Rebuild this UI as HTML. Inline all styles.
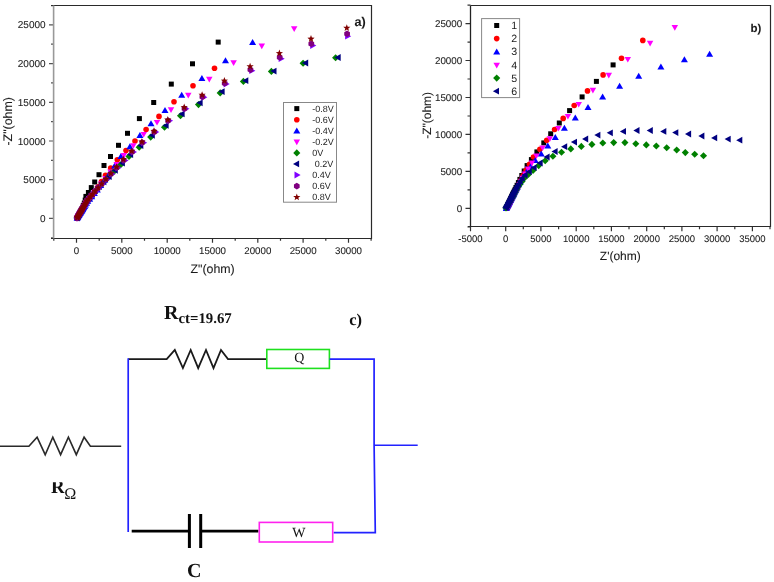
<!DOCTYPE html>
<html><head><meta charset="utf-8"><style>
html,body{margin:0;padding:0;background:#fff;}
svg{display:block;will-change:transform;text-rendering:geometricPrecision;}
</style></head><body>
<svg width="774" height="582" viewBox="0 0 774 582">
<rect width="774" height="582" fill="#fff"/>
<defs>
<rect id="sq" x="-2.5" y="-2.5" width="5" height="5" fill="#000"/>
<circle id="ci" r="2.8" fill="#f00"/>
<polygon id="tu" points="0,-3.3 3.5,2.7 -3.5,2.7" fill="#00f"/>
<polygon id="td" points="0,3.5 3.25,-2.2 -3.25,-2.2" fill="#f0f"/>
<polygon id="di" points="0,-3.55 3.55,0 0,3.55 -3.55,0" fill="#008000"/>
<polygon id="tl" points="-3.8,0 2.3,-3.4 2.3,3.4" fill="#000080"/>
<polygon id="tr" points="3.8,0 -2.3,-3.4 -2.3,3.4" fill="#8000ff"/>
<polygon id="hx" points="2.86,1.65 0.00,3.30 -2.86,1.65 -2.86,-1.65 -0.00,-3.30 2.86,-1.65" fill="#800080"/>
<polygon id="st" points="0.00,-3.80 0.94,-1.29 3.61,-1.17 1.52,0.49 2.23,3.07 0.00,1.60 -2.23,3.07 -1.52,0.49 -3.61,-1.17 -0.94,-1.29" fill="#800000"/>
</defs>
<g font-family="Liberation Sans, sans-serif" fill="#1a1a1a" stroke="#1a1a1a" stroke-width="0.08">
<text transform="translate(45.6,221.9) scale(1,1.0)" font-size="10" text-anchor="end">0</text>
<text transform="translate(45.6,183.2) scale(1,1.0)" font-size="10" text-anchor="end">5000</text>
<text transform="translate(45.6,144.5) scale(1,1.0)" font-size="10" text-anchor="end">10000</text>
<text transform="translate(45.6,105.8) scale(1,1.0)" font-size="10" text-anchor="end">15000</text>
<text transform="translate(45.6,67.1) scale(1,1.0)" font-size="10" text-anchor="end">20000</text>
<text transform="translate(45.6,28.4) scale(1,1.0)" font-size="10" text-anchor="end">25000</text>
<text transform="translate(76.5,254) scale(1,1.0)" font-size="9.7" text-anchor="middle">0</text>
<text transform="translate(121.8,254) scale(1,1.0)" font-size="9.7" text-anchor="middle">5000</text>
<text transform="translate(167.2,254) scale(1,1.0)" font-size="9.7" text-anchor="middle">10000</text>
<text transform="translate(212.5,254) scale(1,1.0)" font-size="9.7" text-anchor="middle">15000</text>
<text transform="translate(257.8,254) scale(1,1.0)" font-size="9.7" text-anchor="middle">20000</text>
<text transform="translate(303.1,254) scale(1,1.0)" font-size="9.7" text-anchor="middle">25000</text>
<text transform="translate(348.5,254) scale(1,1.0)" font-size="9.7" text-anchor="middle">30000</text>
<text x="212.6" y="272.5" font-size="12.4" text-anchor="middle">Z"(ohm)</text>
<text transform="translate(11.9,121.3) rotate(-90)" font-size="12.4" text-anchor="middle">-Z"(ohm)</text>
<text x="354.6" y="25.8" font-size="12.6" font-weight="bold">a)</text>
</g>
<path d="M49 218.4H53.6M51 199.1H53.6M49 179.7H53.6M51 160.3H53.6M49 141H53.6M51 121.7H53.6M49 102.3H53.6M51 82.9H53.6M49 63.6H53.6M51 44.2H53.6M49 24.9H53.6M51 5.6H53.6M51 237.8H53.6" stroke="#555" stroke-width="1.2" fill="none"/>
<path d="M76.5 238.5V242.8M99.2 238.5V240.8M121.8 238.5V242.8M144.5 238.5V240.8M167.2 238.5V242.8M189.8 238.5V240.8M212.5 238.5V242.8M235.2 238.5V240.8M257.8 238.5V242.8M280.5 238.5V240.8M303.1 238.5V242.8M325.8 238.5V240.8M348.5 238.5V242.8M371.1 238.5V240.8M53.8 238.5V240.8" stroke="#333" stroke-width="1.2" fill="none"/>
<path d="M51 5.5H371.5V238.5H51" stroke="#2a2a2a" stroke-width="1.2" fill="none"/>
<path d="M53.6 5.5V238.5" stroke="#999" stroke-width="1.6" fill="none"/>
<g><use href="#sq" x="77.2" y="217.7"/><use href="#sq" x="77.6" y="217"/><use href="#sq" x="77.9" y="216.3"/><use href="#sq" x="78.3" y="215.6"/><use href="#sq" x="78.7" y="214.9"/><use href="#sq" x="79.1" y="214.2"/><use href="#sq" x="79.4" y="213.4"/><use href="#sq" x="79.8" y="212.7"/><use href="#sq" x="80.2" y="212"/><use href="#sq" x="80.6" y="211.2"/><use href="#sq" x="81.1" y="210.2"/><use href="#sq" x="81.8" y="208.9"/><use href="#sq" x="82.5" y="207.4"/><use href="#sq" x="83.3" y="205.4"/><use href="#sq" x="84.3" y="203.1"/><use href="#sq" x="85.2" y="200.1"/><use href="#sq" x="85.9" y="196.4"/><use href="#sq" x="88.4" y="192.5"/><use href="#sq" x="91.3" y="187.6"/><use href="#sq" x="94.7" y="182"/><use href="#sq" x="99" y="174.7"/><use href="#sq" x="104" y="165.5"/><use href="#sq" x="110.5" y="156.5"/><use href="#sq" x="118.5" y="145.3"/><use href="#sq" x="127.5" y="133.3"/><use href="#sq" x="139.4" y="118.6"/><use href="#sq" x="153.7" y="102.5"/><use href="#sq" x="171.3" y="84.1"/><use href="#sq" x="192.5" y="63.8"/><use href="#sq" x="218.2" y="42.1"/><use href="#ci" x="77.1" y="218"/><use href="#ci" x="77.5" y="217.3"/><use href="#ci" x="77.9" y="216.6"/><use href="#ci" x="78.3" y="215.9"/><use href="#ci" x="78.7" y="215.2"/><use href="#ci" x="79.1" y="214.5"/><use href="#ci" x="79.5" y="213.8"/><use href="#ci" x="79.8" y="213.1"/><use href="#ci" x="80.2" y="212.4"/><use href="#ci" x="80.6" y="211.7"/><use href="#ci" x="81" y="211"/><use href="#ci" x="81.4" y="210.3"/><use href="#ci" x="81.8" y="209.7"/><use href="#ci" x="82.3" y="208.8"/><use href="#ci" x="82.8" y="207.9"/><use href="#ci" x="83.5" y="206.8"/><use href="#ci" x="84.3" y="205.4"/><use href="#ci" x="85.2" y="203.8"/><use href="#ci" x="86.3" y="201.9"/><use href="#ci" x="87.9" y="199.8"/><use href="#ci" x="89.9" y="197.3"/><use href="#ci" x="92.2" y="194.4"/><use href="#ci" x="95" y="191"/><use href="#ci" x="98.1" y="186.8"/><use href="#ci" x="101.5" y="181.5"/><use href="#ci" x="105.5" y="175.2"/><use href="#ci" x="110.7" y="168"/><use href="#ci" x="117.3" y="159.7"/><use href="#ci" x="126" y="150.6"/><use href="#ci" x="135" y="141"/><use href="#ci" x="146.1" y="129.5"/><use href="#ci" x="159" y="116.4"/><use href="#ci" x="174" y="101.7"/><use href="#ci" x="193" y="85.7"/><use href="#ci" x="214.5" y="68.2"/><use href="#tu" x="77.1" y="218"/><use href="#tu" x="77.5" y="217.3"/><use href="#tu" x="77.9" y="216.6"/><use href="#tu" x="78.4" y="215.9"/><use href="#tu" x="78.8" y="215.3"/><use href="#tu" x="79.2" y="214.6"/><use href="#tu" x="79.6" y="213.9"/><use href="#tu" x="80.1" y="213.2"/><use href="#tu" x="80.5" y="212.6"/><use href="#tu" x="80.9" y="211.9"/><use href="#tu" x="81.4" y="211.2"/><use href="#tu" x="81.8" y="210.5"/><use href="#tu" x="82.2" y="209.9"/><use href="#tu" x="82.7" y="209.2"/><use href="#tu" x="83.2" y="208.3"/><use href="#tu" x="83.8" y="207.3"/><use href="#tu" x="84.6" y="206.2"/><use href="#tu" x="85.4" y="204.8"/><use href="#tu" x="86.5" y="203.1"/><use href="#tu" x="87.8" y="201.1"/><use href="#tu" x="89.6" y="199"/><use href="#tu" x="91.7" y="196.5"/><use href="#tu" x="94.3" y="193.4"/><use href="#tu" x="97.3" y="189.8"/><use href="#tu" x="100.7" y="185.3"/><use href="#tu" x="104.6" y="180"/><use href="#tu" x="109.3" y="173.5"/><use href="#tu" x="114.6" y="165.7"/><use href="#tu" x="120.9" y="156.4"/><use href="#tu" x="129.9" y="146.5"/><use href="#tu" x="139.9" y="135.3"/><use href="#tu" x="151" y="123.6"/><use href="#tu" x="165" y="110.2"/><use href="#tu" x="181.7" y="95"/><use href="#tu" x="201.9" y="78.2"/><use href="#tu" x="225.5" y="60.6"/><use href="#tu" x="252.6" y="42.3"/><use href="#td" x="77" y="218"/><use href="#td" x="77.5" y="217.3"/><use href="#td" x="77.9" y="216.6"/><use href="#td" x="78.3" y="215.9"/><use href="#td" x="78.7" y="215.3"/><use href="#td" x="79.1" y="214.6"/><use href="#td" x="79.5" y="213.9"/><use href="#td" x="79.9" y="213.2"/><use href="#td" x="80.3" y="212.5"/><use href="#td" x="80.7" y="211.8"/><use href="#td" x="81.1" y="211.1"/><use href="#td" x="81.5" y="210.4"/><use href="#td" x="82" y="209.6"/><use href="#td" x="82.5" y="208.6"/><use href="#td" x="83.2" y="207.5"/><use href="#td" x="84" y="206.1"/><use href="#td" x="84.9" y="204.5"/><use href="#td" x="86.1" y="202.6"/><use href="#td" x="87.5" y="200.5"/><use href="#td" x="89.4" y="198.1"/><use href="#td" x="91.7" y="195.4"/><use href="#td" x="94.4" y="192.1"/><use href="#td" x="97.7" y="188.3"/><use href="#td" x="101.3" y="183.6"/><use href="#td" x="105.5" y="178.1"/><use href="#td" x="110.6" y="171.6"/><use href="#td" x="116.7" y="164.1"/><use href="#td" x="123.9" y="155.2"/><use href="#td" x="133.3" y="145.5"/><use href="#td" x="143.7" y="134.1"/><use href="#td" x="157" y="122.1"/><use href="#td" x="171" y="109.4"/><use href="#td" x="188.3" y="95"/><use href="#td" x="209.3" y="78.9"/><use href="#td" x="233.6" y="62.5"/><use href="#td" x="261.8" y="45.7"/><use href="#td" x="294.2" y="28.4"/><use href="#di" x="77.4" y="217.4"/><use href="#di" x="77.8" y="216.7"/><use href="#di" x="78.3" y="215.9"/><use href="#di" x="78.8" y="215"/><use href="#di" x="79.5" y="213.9"/><use href="#di" x="80.2" y="212.6"/><use href="#di" x="81.1" y="211.1"/><use href="#di" x="82.1" y="209.4"/><use href="#di" x="83.2" y="207.4"/><use href="#di" x="84.6" y="205.1"/><use href="#di" x="86.2" y="202.4"/><use href="#di" x="88.2" y="199.5"/><use href="#di" x="90.9" y="196.3"/><use href="#di" x="94" y="192.6"/><use href="#di" x="97.7" y="188.3"/><use href="#di" x="102.2" y="183.7"/><use href="#di" x="107.4" y="178.2"/><use href="#di" x="113.5" y="172"/><use href="#di" x="120.7" y="164.8"/><use href="#di" x="129" y="156.4"/><use href="#di" x="139.2" y="147.3"/><use href="#di" x="150.7" y="137.1"/><use href="#di" x="164.5" y="127.2"/><use href="#di" x="180.5" y="115.7"/><use href="#di" x="198.5" y="104.6"/><use href="#di" x="220.2" y="92.9"/><use href="#di" x="243.4" y="81.4"/><use href="#di" x="271.4" y="71.4"/><use href="#di" x="303.1" y="63.3"/><use href="#di" x="335.6" y="57.8"/><use href="#tl" x="77.1" y="218"/><use href="#tl" x="77.5" y="217.3"/><use href="#tl" x="77.9" y="216.6"/><use href="#tl" x="78.3" y="215.9"/><use href="#tl" x="78.7" y="215.2"/><use href="#tl" x="79.1" y="214.5"/><use href="#tl" x="79.6" y="213.7"/><use href="#tl" x="80.1" y="212.8"/><use href="#tl" x="80.8" y="211.7"/><use href="#tl" x="81.5" y="210.4"/><use href="#tl" x="82.4" y="208.9"/><use href="#tl" x="83.4" y="207.2"/><use href="#tl" x="84.5" y="205.2"/><use href="#tl" x="85.9" y="202.9"/><use href="#tl" x="87.6" y="200.3"/><use href="#tl" x="89.9" y="197.6"/><use href="#tl" x="92.6" y="194.4"/><use href="#tl" x="95.7" y="190.7"/><use href="#tl" x="99.5" y="186.5"/><use href="#tl" x="104.1" y="181.9"/><use href="#tl" x="109.4" y="176.6"/><use href="#tl" x="115.5" y="170.3"/><use href="#tl" x="122.6" y="163.1"/><use href="#tl" x="130.8" y="154.6"/><use href="#tl" x="141" y="145.5"/><use href="#tl" x="152.5" y="135.3"/><use href="#tl" x="166.3" y="125.4"/><use href="#tl" x="182.3" y="113.9"/><use href="#tl" x="200.3" y="102.8"/><use href="#tl" x="222.3" y="91.6"/><use href="#tl" x="246" y="80.7"/><use href="#tl" x="274.2" y="71.1"/><use href="#tl" x="305.9" y="63"/><use href="#tl" x="338.4" y="57.5"/><use href="#tr" x="77.3" y="217.6"/><use href="#tr" x="77.7" y="216.9"/><use href="#tr" x="78.1" y="216.2"/><use href="#tr" x="78.6" y="215.6"/><use href="#tr" x="79" y="214.9"/><use href="#tr" x="79.4" y="214.2"/><use href="#tr" x="79.8" y="213.5"/><use href="#tr" x="80.2" y="212.8"/><use href="#tr" x="80.6" y="212.1"/><use href="#tr" x="81.1" y="211.5"/><use href="#tr" x="81.5" y="210.8"/><use href="#tr" x="81.9" y="210.1"/><use href="#tr" x="82.3" y="209.4"/><use href="#tr" x="82.7" y="208.7"/><use href="#tr" x="83.2" y="207.9"/><use href="#tr" x="83.8" y="206.9"/><use href="#tr" x="84.5" y="205.8"/><use href="#tr" x="85.3" y="204.5"/><use href="#tr" x="86.2" y="202.9"/><use href="#tr" x="87.4" y="201.1"/><use href="#tr" x="89" y="199.3"/><use href="#tr" x="90.9" y="197.1"/><use href="#tr" x="93.1" y="194.5"/><use href="#tr" x="95.6" y="191.5"/><use href="#tr" x="98.7" y="188"/><use href="#tr" x="102.4" y="184.1"/><use href="#tr" x="106.8" y="179.5"/><use href="#tr" x="111.8" y="174.1"/><use href="#tr" x="117.8" y="167.8"/><use href="#tr" x="124.8" y="160.4"/><use href="#tr" x="133.2" y="152"/><use href="#tr" x="143.4" y="142.7"/><use href="#tr" x="155.5" y="132.1"/><use href="#tr" x="169.3" y="120.7"/><use href="#tr" x="185.7" y="108.8"/><use href="#tr" x="203.6" y="97.2"/><use href="#tr" x="225.9" y="84"/><use href="#tr" x="251.6" y="70.7"/><use href="#tr" x="280.9" y="58.7"/><use href="#tr" x="312.5" y="45.6"/><use href="#tr" x="347.4" y="36.2"/><use href="#hx" x="77" y="218.1"/><use href="#hx" x="77.4" y="217.4"/><use href="#hx" x="77.8" y="216.7"/><use href="#hx" x="78.2" y="216"/><use href="#hx" x="78.6" y="215.3"/><use href="#hx" x="79" y="214.6"/><use href="#hx" x="79.4" y="213.9"/><use href="#hx" x="79.8" y="213.2"/><use href="#hx" x="80.2" y="212.5"/><use href="#hx" x="80.6" y="211.8"/><use href="#hx" x="81" y="211.2"/><use href="#hx" x="81.4" y="210.5"/><use href="#hx" x="81.8" y="209.8"/><use href="#hx" x="82.2" y="209.1"/><use href="#hx" x="82.7" y="208.2"/><use href="#hx" x="83.3" y="207.2"/><use href="#hx" x="83.9" y="206.1"/><use href="#hx" x="84.7" y="204.8"/><use href="#hx" x="85.6" y="203.2"/><use href="#hx" x="86.7" y="201.4"/><use href="#hx" x="88.2" y="199.4"/><use href="#hx" x="90" y="197.2"/><use href="#hx" x="92.2" y="194.7"/><use href="#hx" x="94.8" y="191.6"/><use href="#hx" x="97.8" y="188.1"/><use href="#hx" x="101.4" y="184.1"/><use href="#hx" x="105.7" y="179.4"/><use href="#hx" x="110.7" y="173.9"/><use href="#hx" x="116.6" y="167.6"/><use href="#hx" x="123.6" y="160.2"/><use href="#hx" x="132" y="151.8"/><use href="#hx" x="142.2" y="142.5"/><use href="#hx" x="154.3" y="131.9"/><use href="#hx" x="168.1" y="120.7"/><use href="#hx" x="184.5" y="108.7"/><use href="#hx" x="202.4" y="96.9"/><use href="#hx" x="224.7" y="83.3"/><use href="#hx" x="250.4" y="69.7"/><use href="#hx" x="279.7" y="57.3"/><use href="#hx" x="311.3" y="43.8"/><use href="#hx" x="347.1" y="33.8"/><use href="#st" x="77.2" y="217.7"/><use href="#st" x="77.6" y="217.1"/><use href="#st" x="78" y="216.4"/><use href="#st" x="78.4" y="215.7"/><use href="#st" x="78.8" y="215"/><use href="#st" x="79.2" y="214.3"/><use href="#st" x="79.6" y="213.6"/><use href="#st" x="80" y="212.9"/><use href="#st" x="80.4" y="212.2"/><use href="#st" x="80.8" y="211.5"/><use href="#st" x="81.2" y="210.8"/><use href="#st" x="81.6" y="210.1"/><use href="#st" x="82" y="209.4"/><use href="#st" x="82.4" y="208.7"/><use href="#st" x="82.9" y="207.9"/><use href="#st" x="83.5" y="206.9"/><use href="#st" x="84.1" y="205.8"/><use href="#st" x="84.9" y="204.4"/><use href="#st" x="85.8" y="202.9"/><use href="#st" x="86.9" y="201"/><use href="#st" x="88.4" y="199.1"/><use href="#st" x="90.3" y="196.9"/><use href="#st" x="92.5" y="194.4"/><use href="#st" x="95.1" y="191.3"/><use href="#st" x="98.1" y="187.8"/><use href="#st" x="101.7" y="183.8"/><use href="#st" x="105.9" y="179.1"/><use href="#st" x="110.9" y="173.5"/><use href="#st" x="116.6" y="167"/><use href="#st" x="123.3" y="159.4"/><use href="#st" x="131.7" y="151"/><use href="#st" x="141.9" y="141.7"/><use href="#st" x="154" y="131.1"/><use href="#st" x="167.8" y="119.7"/><use href="#st" x="184.2" y="107.3"/><use href="#st" x="202.1" y="95"/><use href="#st" x="224.4" y="80.8"/><use href="#st" x="250.1" y="66.5"/><use href="#st" x="279.4" y="53.3"/><use href="#st" x="311" y="38.9"/><use href="#st" x="346.8" y="28"/></g>
<rect x="283.5" y="102.5" width="53" height="99.7" fill="#fff" stroke="#888" stroke-width="1"/>
<use href="#sq" x="296.8" y="108.6"/>
<text transform="translate(312.2,111.5) scale(1,1.0)" font-family="Liberation Sans, sans-serif" font-size="9" fill="#1a1a1a">-0.8V</text>
<use href="#ci" x="296.8" y="119.7"/>
<text transform="translate(312.2,122.6) scale(1,1.0)" font-family="Liberation Sans, sans-serif" font-size="9" fill="#1a1a1a">-0.6V</text>
<use href="#tu" x="296.8" y="130.7"/>
<text transform="translate(312.2,133.6) scale(1,1.0)" font-family="Liberation Sans, sans-serif" font-size="9" fill="#1a1a1a">-0.4V</text>
<use href="#td" x="296.8" y="141.8"/>
<text transform="translate(312.2,144.7) scale(1,1.0)" font-family="Liberation Sans, sans-serif" font-size="9" fill="#1a1a1a">-0.2V</text>
<use href="#di" x="296.8" y="152.9"/>
<text transform="translate(312.2,155.8) scale(1,1.0)" font-family="Liberation Sans, sans-serif" font-size="9" fill="#1a1a1a">0V</text>
<use href="#tl" x="296.8" y="163.9"/>
<text transform="translate(314.8,166.8) scale(1,1.0)" font-family="Liberation Sans, sans-serif" font-size="9" fill="#1a1a1a">0.2V</text>
<use href="#tr" x="296.8" y="175"/>
<text transform="translate(312.2,177.9) scale(1,1.0)" font-family="Liberation Sans, sans-serif" font-size="9" fill="#1a1a1a">0.4V</text>
<use href="#hx" x="296.8" y="186.1"/>
<text transform="translate(312.2,189) scale(1,1.0)" font-family="Liberation Sans, sans-serif" font-size="9" fill="#1a1a1a">0.6V</text>
<use href="#st" x="296.8" y="197.2"/>
<text transform="translate(312.2,200.1) scale(1,1.0)" font-family="Liberation Sans, sans-serif" font-size="9" fill="#1a1a1a">0.8V</text>
<g font-family="Liberation Sans, sans-serif" fill="#1a1a1a" stroke="#1a1a1a" stroke-width="0.08">
<text transform="translate(462.2,211.8) scale(1,1.0)" font-size="9.8" text-anchor="end">0</text>
<text transform="translate(462.2,174.9) scale(1,1.0)" font-size="9.8" text-anchor="end">5000</text>
<text transform="translate(462.2,137.9) scale(1,1.0)" font-size="9.8" text-anchor="end">10000</text>
<text transform="translate(462.2,101) scale(1,1.0)" font-size="9.8" text-anchor="end">15000</text>
<text transform="translate(462.2,64) scale(1,1.0)" font-size="9.8" text-anchor="end">20000</text>
<text transform="translate(462.2,27.1) scale(1,1.0)" font-size="9.8" text-anchor="end">25000</text>
<text transform="translate(470.5,242) scale(1,1.0)" font-size="9.5" text-anchor="middle">-5000</text>
<text transform="translate(505.7,242) scale(1,1.0)" font-size="9.5" text-anchor="middle">0</text>
<text transform="translate(540.9,242) scale(1,1.0)" font-size="9.5" text-anchor="middle">5000</text>
<text transform="translate(576.2,242) scale(1,1.0)" font-size="9.5" text-anchor="middle">10000</text>
<text transform="translate(611.4,242) scale(1,1.0)" font-size="9.5" text-anchor="middle">15000</text>
<text transform="translate(646.7,242) scale(1,1.0)" font-size="9.5" text-anchor="middle">20000</text>
<text transform="translate(681.9,242) scale(1,1.0)" font-size="9.5" text-anchor="middle">25000</text>
<text transform="translate(717.1,242) scale(1,1.0)" font-size="9.5" text-anchor="middle">30000</text>
<text transform="translate(752.4,242) scale(1,1.0)" font-size="9.5" text-anchor="middle">35000</text>
<text x="620.3" y="260.4" font-size="12" text-anchor="middle">Z'(ohm)</text>
<text transform="translate(430.8,115.4) rotate(-90)" font-size="12" text-anchor="middle">-Z"(ohm)</text>
<text x="750.5" y="32" font-size="11.5" font-weight="bold">b)</text>
</g>
<path d="M465.5 208.3H470.5M467.5 189.9H470.5M465.5 171.4H470.5M467.5 152.9H470.5M465.5 134.4H470.5M467.5 116H470.5M465.5 97.5H470.5M467.5 79H470.5M465.5 60.5H470.5M467.5 42.1H470.5M465.5 23.6H470.5M467.5 5.1H470.5M467.5 226.8H470.5M470.5 226.5V231.2M488.1 226.5V229.2M505.7 226.5V231.2M523.3 226.5V229.2M540.9 226.5V231.2M558.6 226.5V229.2M576.2 226.5V231.2M593.8 226.5V229.2M611.4 226.5V231.2M629 226.5V229.2M646.7 226.5V231.2M664.3 226.5V229.2M681.9 226.5V231.2M699.5 226.5V229.2M717.1 226.5V231.2M734.8 226.5V229.2M752.4 226.5V231.2M770 226.5V229.2" stroke="#333" stroke-width="1.2" fill="none"/>
<path d="M470.5 5.5H770.5V226.5H468" stroke="#2a2a2a" stroke-width="1.2" fill="none"/>
<path d="M470.5 5.5V226.5" stroke="#222" stroke-width="1.3" fill="none"/>
<g><use href="#sq" x="506.8" y="207.3"/><use href="#sq" x="507.1" y="206.5"/><use href="#sq" x="507.5" y="205.8"/><use href="#sq" x="507.8" y="205.1"/><use href="#sq" x="508.1" y="204.4"/><use href="#sq" x="508.5" y="203.6"/><use href="#sq" x="508.8" y="202.9"/><use href="#sq" x="509.1" y="202.2"/><use href="#sq" x="509.5" y="201.5"/><use href="#sq" x="509.8" y="200.7"/><use href="#sq" x="510.2" y="200"/><use href="#sq" x="510.5" y="199.3"/><use href="#sq" x="510.8" y="198.6"/><use href="#sq" x="511.2" y="197.8"/><use href="#sq" x="511.5" y="197.1"/><use href="#sq" x="511.9" y="196.4"/><use href="#sq" x="512.2" y="195.7"/><use href="#sq" x="512.5" y="194.9"/><use href="#sq" x="512.9" y="194.2"/><use href="#sq" x="513.3" y="193.3"/><use href="#sq" x="513.8" y="192.2"/><use href="#sq" x="514.4" y="190.9"/><use href="#sq" x="515.2" y="189.4"/><use href="#sq" x="516" y="187.5"/><use href="#sq" x="517.1" y="185.3"/><use href="#sq" x="518.4" y="182.6"/><use href="#sq" x="519.9" y="179.4"/><use href="#sq" x="521.8" y="175.5"/><use href="#sq" x="524.2" y="171"/><use href="#sq" x="527.1" y="165.6"/><use href="#sq" x="531.4" y="159.6"/><use href="#sq" x="536.9" y="151.9"/><use href="#sq" x="543.8" y="142.9"/><use href="#sq" x="550.7" y="133.8"/><use href="#sq" x="559.3" y="123"/><use href="#sq" x="569.6" y="110.6"/><use href="#sq" x="582.1" y="96.9"/><use href="#sq" x="596.4" y="81.4"/><use href="#sq" x="613.1" y="64.9"/><use href="#ci" x="507.3" y="208"/><use href="#ci" x="507.7" y="207.3"/><use href="#ci" x="508.1" y="206.6"/><use href="#ci" x="508.4" y="205.9"/><use href="#ci" x="508.8" y="205.2"/><use href="#ci" x="509.1" y="204.5"/><use href="#ci" x="509.5" y="203.7"/><use href="#ci" x="509.8" y="203"/><use href="#ci" x="510.2" y="202.3"/><use href="#ci" x="510.5" y="201.6"/><use href="#ci" x="510.9" y="200.9"/><use href="#ci" x="511.2" y="200.1"/><use href="#ci" x="511.6" y="199.4"/><use href="#ci" x="511.9" y="198.7"/><use href="#ci" x="512.3" y="198"/><use href="#ci" x="512.6" y="197.3"/><use href="#ci" x="513" y="196.4"/><use href="#ci" x="513.6" y="195.4"/><use href="#ci" x="514.2" y="194.2"/><use href="#ci" x="514.9" y="192.8"/><use href="#ci" x="515.8" y="191.1"/><use href="#ci" x="516.9" y="189"/><use href="#ci" x="518.2" y="186.5"/><use href="#ci" x="519.6" y="183.5"/><use href="#ci" x="521.2" y="179.8"/><use href="#ci" x="523.3" y="175.5"/><use href="#ci" x="526.1" y="170.4"/><use href="#ci" x="529.5" y="164.3"/><use href="#ci" x="533.5" y="157"/><use href="#ci" x="539.9" y="149.3"/><use href="#ci" x="546.7" y="140.2"/><use href="#ci" x="554.6" y="129.5"/><use href="#ci" x="563.2" y="118.4"/><use href="#ci" x="574.2" y="105.5"/><use href="#ci" x="587.5" y="90.9"/><use href="#ci" x="603.1" y="74.9"/><use href="#ci" x="621.5" y="58.2"/><use href="#ci" x="642.8" y="40.4"/><use href="#tu" x="506.3" y="208.2"/><use href="#tu" x="506.6" y="207.5"/><use href="#tu" x="507" y="206.8"/><use href="#tu" x="507.3" y="206.1"/><use href="#tu" x="507.7" y="205.4"/><use href="#tu" x="508.1" y="204.7"/><use href="#tu" x="508.4" y="204"/><use href="#tu" x="508.8" y="203.3"/><use href="#tu" x="509.2" y="202.6"/><use href="#tu" x="509.5" y="201.8"/><use href="#tu" x="509.9" y="201.1"/><use href="#tu" x="510.3" y="200.4"/><use href="#tu" x="510.6" y="199.7"/><use href="#tu" x="511" y="199"/><use href="#tu" x="511.3" y="198.3"/><use href="#tu" x="511.7" y="197.6"/><use href="#tu" x="512.1" y="196.9"/><use href="#tu" x="512.5" y="196.1"/><use href="#tu" x="512.8" y="195.4"/><use href="#tu" x="513.2" y="194.7"/><use href="#tu" x="513.6" y="194"/><use href="#tu" x="514" y="193.3"/><use href="#tu" x="514.4" y="192.4"/><use href="#tu" x="515" y="191.4"/><use href="#tu" x="515.7" y="190.1"/><use href="#tu" x="516.5" y="188.6"/><use href="#tu" x="517.4" y="186.8"/><use href="#tu" x="518.6" y="184.6"/><use href="#tu" x="520.1" y="182"/><use href="#tu" x="521.8" y="178.9"/><use href="#tu" x="523.9" y="175.2"/><use href="#tu" x="527" y="171.1"/><use href="#tu" x="530.7" y="166.2"/><use href="#tu" x="535.2" y="160.4"/><use href="#tu" x="541.2" y="153.9"/><use href="#tu" x="547.8" y="145.8"/><use href="#tu" x="555.3" y="137.3"/><use href="#tu" x="564.4" y="128.1"/><use href="#tu" x="575.3" y="117.8"/><use href="#tu" x="588" y="107.2"/><use href="#tu" x="602.6" y="96.9"/><use href="#tu" x="619.6" y="86"/><use href="#tu" x="638.7" y="76"/><use href="#tu" x="660.9" y="66.9"/><use href="#tu" x="684.4" y="59.5"/><use href="#tu" x="709.6" y="54"/><use href="#td" x="507.9" y="207.7"/><use href="#td" x="508.2" y="207"/><use href="#td" x="508.6" y="206.3"/><use href="#td" x="509" y="205.5"/><use href="#td" x="509.4" y="204.8"/><use href="#td" x="509.7" y="204.1"/><use href="#td" x="510.1" y="203.4"/><use href="#td" x="510.5" y="202.7"/><use href="#td" x="510.8" y="202"/><use href="#td" x="511.2" y="201.3"/><use href="#td" x="511.6" y="200.6"/><use href="#td" x="512" y="199.9"/><use href="#td" x="512.3" y="199.2"/><use href="#td" x="512.7" y="198.5"/><use href="#td" x="513.1" y="197.8"/><use href="#td" x="513.5" y="197.1"/><use href="#td" x="513.8" y="196.4"/><use href="#td" x="514.2" y="195.6"/><use href="#td" x="514.6" y="194.8"/><use href="#td" x="515.2" y="193.8"/><use href="#td" x="515.8" y="192.6"/><use href="#td" x="516.5" y="191.1"/><use href="#td" x="517.4" y="189.4"/><use href="#td" x="518.5" y="187.3"/><use href="#td" x="519.6" y="184.7"/><use href="#td" x="521" y="181.6"/><use href="#td" x="522.7" y="177.9"/><use href="#td" x="525" y="173.6"/><use href="#td" x="528.1" y="168.7"/><use href="#td" x="531.9" y="162.7"/><use href="#td" x="536.4" y="155.6"/><use href="#td" x="542.6" y="147.6"/><use href="#td" x="549.8" y="138.5"/><use href="#td" x="558.4" y="128.1"/><use href="#td" x="567.9" y="116.1"/><use href="#td" x="578.7" y="104.1"/><use href="#td" x="592.9" y="90"/><use href="#td" x="608.8" y="74.9"/><use href="#td" x="627.8" y="59.1"/><use href="#td" x="650.1" y="42.9"/><use href="#td" x="674.8" y="27.3"/><use href="#di" x="506" y="207.9"/><use href="#di" x="506.4" y="207.2"/><use href="#di" x="506.8" y="206.6"/><use href="#di" x="507.2" y="205.9"/><use href="#di" x="507.6" y="205.2"/><use href="#di" x="508" y="204.5"/><use href="#di" x="508.4" y="203.8"/><use href="#di" x="508.8" y="203.1"/><use href="#di" x="509.2" y="202.4"/><use href="#di" x="509.7" y="201.8"/><use href="#di" x="510.1" y="201.1"/><use href="#di" x="510.5" y="200.4"/><use href="#di" x="510.9" y="199.7"/><use href="#di" x="511.3" y="199"/><use href="#di" x="511.7" y="198.3"/><use href="#di" x="512.1" y="197.6"/><use href="#di" x="512.5" y="196.9"/><use href="#di" x="512.9" y="196.2"/><use href="#di" x="513.3" y="195.5"/><use href="#di" x="513.7" y="194.6"/><use href="#di" x="514.3" y="193.5"/><use href="#di" x="515" y="192.3"/><use href="#di" x="515.8" y="190.7"/><use href="#di" x="516.8" y="188.9"/><use href="#di" x="518" y="186.8"/><use href="#di" x="519.8" y="184.4"/><use href="#di" x="522" y="181.5"/><use href="#di" x="524.5" y="178"/><use href="#di" x="528.4" y="174.5"/><use href="#di" x="533" y="170.4"/><use href="#di" x="538.7" y="165.6"/><use href="#di" x="545.2" y="160.8"/><use href="#di" x="552.9" y="156.2"/><use href="#di" x="561.5" y="152.2"/><use href="#di" x="570.8" y="148.9"/><use href="#di" x="581.3" y="146.4"/><use href="#di" x="591.9" y="144.4"/><use href="#di" x="602.8" y="143"/><use href="#di" x="613.7" y="142.6"/><use href="#di" x="624.9" y="142.6"/><use href="#di" x="635.8" y="143.7"/><use href="#di" x="646.3" y="144.9"/><use href="#di" x="656.3" y="146"/><use href="#di" x="666.7" y="147.7"/><use href="#di" x="676.7" y="150"/><use href="#di" x="685.3" y="152.6"/><use href="#di" x="694.7" y="154.2"/><use href="#di" x="703.5" y="155.8"/><use href="#tl" x="506" y="207.7"/><use href="#tl" x="506.4" y="207"/><use href="#tl" x="506.8" y="206.3"/><use href="#tl" x="507.1" y="205.6"/><use href="#tl" x="507.5" y="204.9"/><use href="#tl" x="507.9" y="204.2"/><use href="#tl" x="508.3" y="203.5"/><use href="#tl" x="508.6" y="202.8"/><use href="#tl" x="509" y="202.1"/><use href="#tl" x="509.4" y="201.4"/><use href="#tl" x="509.8" y="200.7"/><use href="#tl" x="510.1" y="200"/><use href="#tl" x="510.5" y="199.3"/><use href="#tl" x="510.9" y="198.5"/><use href="#tl" x="511.3" y="197.8"/><use href="#tl" x="511.6" y="197.1"/><use href="#tl" x="512" y="196.4"/><use href="#tl" x="512.4" y="195.7"/><use href="#tl" x="512.7" y="195"/><use href="#tl" x="513.1" y="194.3"/><use href="#tl" x="513.5" y="193.6"/><use href="#tl" x="513.9" y="192.8"/><use href="#tl" x="514.3" y="191.9"/><use href="#tl" x="514.9" y="190.8"/><use href="#tl" x="515.6" y="189.5"/><use href="#tl" x="516.4" y="187.9"/><use href="#tl" x="517.4" y="186.1"/><use href="#tl" x="518.8" y="183.9"/><use href="#tl" x="520.4" y="181.3"/><use href="#tl" x="522.4" y="178.2"/><use href="#tl" x="525.3" y="175"/><use href="#tl" x="529.5" y="171.7"/><use href="#tl" x="534.4" y="167.7"/><use href="#tl" x="540.4" y="163"/><use href="#tl" x="547.3" y="157"/><use href="#tl" x="555.3" y="151.5"/><use href="#tl" x="564.9" y="146.7"/><use href="#tl" x="574.7" y="142.1"/><use href="#tl" x="585.9" y="139"/><use href="#tl" x="598.1" y="135.1"/><use href="#tl" x="610.5" y="132.8"/><use href="#tl" x="623.7" y="131.4"/><use href="#tl" x="637.2" y="130.5"/><use href="#tl" x="650.5" y="130.5"/><use href="#tl" x="664" y="131.4"/><use href="#tl" x="676" y="132.6"/><use href="#tl" x="688.8" y="134"/><use href="#tl" x="702.1" y="136"/><use href="#tl" x="714.9" y="137.9"/><use href="#tl" x="728.4" y="139.1"/><use href="#tl" x="740" y="140.2"/></g>
<rect x="481.6" y="18.6" width="38" height="79" fill="#fff" stroke="#888" stroke-width="1"/>
<use href="#sq" x="496.7" y="25.5"/>
<text transform="translate(511.2,29.1) scale(1,1.0)" font-family="Liberation Sans, sans-serif" font-size="10.6" fill="#1a1a1a">1</text>
<use href="#ci" x="496.7" y="38.6"/>
<text transform="translate(511.2,42.2) scale(1,1.0)" font-family="Liberation Sans, sans-serif" font-size="10.6" fill="#1a1a1a">2</text>
<use href="#tu" x="496.7" y="51.8"/>
<text transform="translate(511.2,55.4) scale(1,1.0)" font-family="Liberation Sans, sans-serif" font-size="10.6" fill="#1a1a1a">3</text>
<use href="#td" x="496.7" y="65"/>
<text transform="translate(511.2,68.5) scale(1,1.0)" font-family="Liberation Sans, sans-serif" font-size="10.6" fill="#1a1a1a">4</text>
<use href="#di" x="496.7" y="78.1"/>
<text transform="translate(511.2,81.7) scale(1,1.0)" font-family="Liberation Sans, sans-serif" font-size="10.6" fill="#1a1a1a">5</text>
<use href="#tl" x="496.7" y="91.2"/>
<text transform="translate(511.2,94.8) scale(1,1.0)" font-family="Liberation Sans, sans-serif" font-size="10.6" fill="#1a1a1a">6</text>
<path d="M128.2 359.1H166.7L174.8 350L182.9 368.1L190.7 350L198.2 368.1L206 350L213.5 368.1L221 350L228 359.1H266.5" stroke="#1a1a1a" stroke-width="1.8" fill="none" stroke-linejoin="miter"/><rect x="266.8" y="349.5" width="62.6" height="18.9" fill="none" stroke="#1ee01e" stroke-width="1.6"/><text x="299.2" y="362" font-family="Liberation Serif, serif" font-size="14" text-anchor="middle" fill="#111">Q</text><path d="M329.6 359.2H374.1V445.3L375.3 532.7H333.6" stroke="#2222ff" stroke-width="1.7" fill="none"/><path d="M374 445.3H417.7" stroke="#2222ff" stroke-width="1.6" fill="none"/><path d="M128.2 358.3V532" stroke="#2222ff" stroke-width="1.7" fill="none"/><path d="M131.7 531.2H189.2M200.9 531.2H258.4" stroke="#000" stroke-width="2.8" fill="none"/><path d="M189.4 514V548M200.7 514V548" stroke="#000" stroke-width="3" fill="none"/><rect x="259.3" y="522.4" width="73.4" height="19.6" fill="none" stroke="#ff22ee" stroke-width="1.6"/><text x="298.9" y="537" font-family="Liberation Serif, serif" font-size="14" text-anchor="middle" fill="#111">W</text><path d="M0 446.2H28.9L37.1 437.2L45.2 454.7L52.8 437.2L60.6 454.7L68.4 437.2L76.3 454.7L84.1 437.2L90.4 446.2H121.2" stroke="#2a2a2a" stroke-width="1.6" fill="none"/><text x="164" y="318.6" font-family="Liberation Serif, serif" font-size="20" font-weight="bold" fill="#111">R<tspan font-size="14.8" dy="4.5">ct=19.67</tspan></text><text x="349.3" y="325.2" font-family="Liberation Serif, serif" font-size="16.5" font-weight="bold" fill="#111">c)</text><text x="187" y="576.5" font-family="Liberation Serif, serif" font-size="20" font-weight="bold" fill="#111">C</text><clipPath id="rclip"><rect x="40" y="482.3" width="24.5" height="30"/></clipPath><text x="50.9" y="492.8" font-family="Liberation Serif, serif" font-size="19" font-weight="bold" fill="#111" clip-path="url(#rclip)">R</text><text x="64.2" y="499.4" font-family="Liberation Serif, serif" font-size="16.2" fill="#111">&#937;</text>
</svg>
</body></html>
